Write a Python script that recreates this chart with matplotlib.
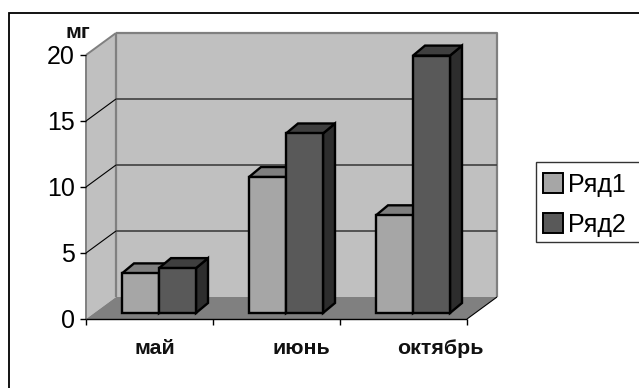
#!/usr/bin/env python3
# -*- coding: utf-8 -*-
import matplotlib
matplotlib.use('Agg')
import matplotlib.pyplot as plt
from matplotlib.patches import Rectangle, Polygon
from matplotlib.lines import Line2D

# datos
meses = ['май', 'июнь', 'октябрь']
serie1 = [3.0, 10.3, 7.4]
serie2 = [3.4, 13.6, 19.5]
nombres = ['Ряд1', 'Ряд2']
yticks = [0, 5, 10, 15, 20]

W, H = 639.0, 388.0

# las etiquetas del original no estan centradas en su categoria (pixeles)
ajusteEtiqueta = [5.5, 25, 36.5]

plt.rcParams['font.family'] = ['Liberation Sans', 'DejaVu Sans']

fig = plt.figure(figsize=(W / 100, H / 100), dpi=100)

# marco exterior, cortado por la derecha y por abajo
fig.add_artist(Rectangle((8.5 / W, -0.02), 650 / W, 1.02 - 12.5 / H, transform=fig.transFigure,
                         fill=False, ec='black', lw=1.3))

# plano frontal de la grafica: x 86-467, y 319-55 (pixeles)
ax = fig.add_axes([86 / W, 1 - 319 / H, 381 / W, 264 / H])
ax.set_xlim(0, 3)
ax.set_ylim(0, 20)
ax.axis('off')

# pixeles a unidades de datos
px = 3 / 381.0
py = 20 / 264.0
fondoX = 30 * px
fondoY = 22 * py


def poly(pts, fc, ec='none', lw=0, z=1):
	ax.add_patch(Polygon(pts, closed=True, fc=fc, ec=ec, lw=lw, zorder=z, clip_on=False, joinstyle='miter'))


def linea(xs, ys, color, lw=1.0, z=2):
	ax.add_line(Line2D(xs, ys, color=color, lw=lw, zorder=z, clip_on=False, solid_capstyle='butt'))


# paredes y piso
poly([(fondoX, fondoY), (3 + fondoX, fondoY), (3 + fondoX, 20 + fondoY), (fondoX, 20 + fondoY)], '#c0c0c0')
poly([(0, 0), (fondoX, fondoY), (fondoX, 20 + fondoY), (0, 20)], '#c0c0c0')
poly([(0, 0), (3, 0), (3 + fondoX, fondoY), (fondoX, fondoY)], '#808080')

# bordes grises
linea([fondoX, fondoX], [fondoY, 20 + fondoY], '#808080', 1.6)
linea([fondoX, 3 + fondoX, 3 + fondoX], [20 + fondoY, 20 + fondoY, fondoY], '#808080', 1.6)
linea([0, fondoX], [20, 20 + fondoY], '#808080', 1.4)
linea([0, 0], [0, 20], '#808080', 1.4)

# lineas de division
for v in yticks[1:-1]:
	linea([0, fondoX], [v, v + fondoY], '#000000', 0.8)
	linea([fondoX, 3 + fondoX], [v + fondoY, v + fondoY], '#404040', 1.2)

# ejes
linea([0, 3], [0, 0], '#000000', 1.0, 3)
linea([3, 3 + fondoX], [0, fondoY], '#000000', 0.8, 3)
for i in range(4):
	linea([i, i], [0, -6 * py], '#000000', 1.0, 3)
for v in yticks:
	linea([-6 * px, 0], [v, v], '#000000', 1.0, 3)
	ax.text(-11 * px, v - 9 * py, str(v), ha='right', va='baseline', fontsize=18, color='black')

for i, m in enumerate(meses):
	ax.text(i + 0.5 + ajusteEtiqueta[i] * px, -30 * py, m, ha='center', va='center', fontsize=15.4,
	        fontweight='bold', color='#111111')
ax.text(-8.5 * px, 20 + 23 * py, 'мг', ha='center', va='center', fontsize=15.4, fontweight='bold', color='#111111')

# barras
base = 6 * py
anchoBarra = 37 * px
inicio = 36 * px
profX = 12 * px
profY = 10 * py
colores = [('#a6a6a6', '#7f7f7f', '#555555'), ('#595959', '#3f3f3f', '#2d2d2d')]

for i in range(len(meses)):
	for j, serie in enumerate([serie1, serie2]):
		x0 = i + inicio + j * anchoBarra
		x1 = x0 + anchoBarra
		top = serie[i] + base
		cara, tapa, lado = colores[j]
		z = 5 + j
		poly([(x1, base), (x1 + profX, base + profY), (x1 + profX, top + profY), (x1, top)], lado, 'black', 1.7, z)
		poly([(x0, top), (x0 + profX, top + profY), (x1 + profX, top + profY), (x1, top)], tapa, 'black', 1.7, z)
		ax.add_patch(Rectangle((x0, base), anchoBarra, serie[i], fc=cara, ec='black', lw=1.7, zorder=z,
		                       clip_on=False))

# leyenda, tambien cortada por la derecha
fig.add_artist(Rectangle((536 / W, 1 - 242 / H), 120 / W, 80 / H, transform=fig.transFigure,
                         fc='white', ec='#333333', lw=1.0))
for j, nombre in enumerate(nombres):
	yc = 183 + j * 40
	fig.add_artist(Rectangle((543 / W, 1 - (yc + 10) / H), 20 / W, 20 / H, transform=fig.transFigure,
	                         fc=colores[j][0], ec='black', lw=1.4))
	fig.text(567.5 / W, 1 - (yc + 9) / H, nombre, ha='left', va='baseline', fontsize=18, color='black')

plt.savefig('out.png', dpi=100)
